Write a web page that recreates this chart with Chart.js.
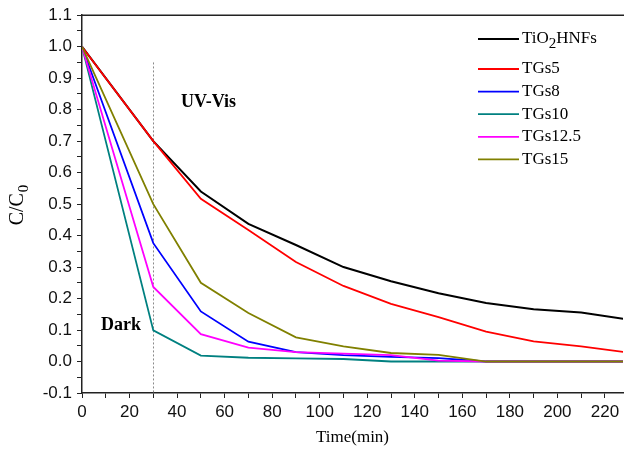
<!DOCTYPE html>
<html>
<head>
<meta charset="utf-8">
<script src="https://cdn.jsdelivr.net/npm/chart.js@4/dist/chart.umd.min.js"></script>
<style>
  html, body { margin: 0; padding: 0; background: #fff; }
  #wrap { width: 624px; height: 453px; position: relative; }
</style>
</head>
<body>
<div id="wrap"><canvas id="c" width="624" height="453"></canvas></div>
<script>
// ---- data ----
const timeMin = [0, 30, 50, 70, 90, 110, 130, 150, 170, 190, 210, 230];
const seriesNames = ['TiO2HNFs', 'TGs5', 'TGs8', 'TGs10', 'TGs12.5', 'TGs15'];
const tio2HNFs = [1.0, 0.70, 0.54, 0.437, 0.37, 0.30, 0.255, 0.217, 0.186, 0.166, 0.156, 0.133];
const tgs5     = [1.0, 0.70, 0.517, 0.418, 0.316, 0.24, 0.183, 0.141, 0.095, 0.064, 0.048, 0.028];
const tgs8     = [1.0, 0.376, 0.159, 0.063, 0.030, 0.020, 0.015, 0.011, 0.0, 0.0, 0.0, 0.0];
const tgs10    = [1.0, 0.099, 0.019, 0.012, 0.010, 0.008, 0.0, 0.0, 0.0, 0.0, 0.0, 0.0];
const tgs125   = [1.0, 0.237, 0.087, 0.044, 0.030, 0.025, 0.020, 0.003, 0.0, 0.0, 0.0, 0.0];
const tgs15    = [1.0, 0.50, 0.25, 0.154, 0.077, 0.048, 0.027, 0.021, 0.0, 0.0, 0.0, 0.0];
const xTickValues = [0, 10, 20, 30, 40, 50, 60, 70, 80, 90, 100, 110, 120, 130, 140, 150, 160, 170, 180, 190, 200, 210, 220];
const yTickValues = [-0.1, -0.05, 0.0, 0.05, 0.1, 0.15, 0.2, 0.25, 0.3, 0.35, 0.4, 0.45, 0.5, 0.55, 0.6, 0.65, 0.7, 0.75, 0.8, 0.85, 0.9, 0.95, 1.0, 1.05, 1.1];
const darkUvBoundary = 30;   // min
const boundaryTop = 0.95;

const allSeries = [tio2HNFs, tgs5, tgs8, tgs10, tgs125, tgs15];
const colors = ['#000000', '#ff0000', '#0000ff', '#008080', '#ff00ff', '#808000'];
const widths = [2, 1.8, 1.8, 1.8, 1.8, 1.8];

const datasets = allSeries.map((vals, i) => ({
  label: seriesNames[i],
  data: timeMin.map((t, j) => ({ x: t, y: vals[j] })),
  borderColor: colors[i],
  backgroundColor: colors[i],
  borderWidth: widths[i],
  pointRadius: 0,
  tension: 0,
  fill: false,
  order: allSeries.length - i
}));

const serif = '"Liberation Serif", "Times New Roman", serif';
const sans = '"Liberation Sans", Arial, sans-serif';

const decor = {
  id: 'decor',
  beforeDatasetsDraw(chart) {
    const { ctx, chartArea: a, scales: { x, y } } = chart;
    ctx.save();
    ctx.strokeStyle = '#8a8a8a';
    ctx.lineWidth = 1;
    ctx.setLineDash([2, 2]);
    const bx = Math.round(x.getPixelForValue(darkUvBoundary)) + 0.5;
    ctx.beginPath();
    ctx.moveTo(bx, y.getPixelForValue(boundaryTop));
    ctx.lineTo(bx, a.bottom);
    ctx.stroke();
    ctx.restore();
  },
  afterDraw(chart) {
    const { ctx, chartArea: a } = chart;
    ctx.save();
    ctx.strokeStyle = '#222';
    ctx.lineWidth = 1.5;
    ctx.beginPath();
    ctx.moveTo(a.left, a.top);
    ctx.lineTo(624, a.top);
    ctx.stroke();

    ctx.fillStyle = '#000';
    ctx.textBaseline = 'middle';
    ctx.textAlign = 'center';
    ctx.font = '17px ' + serif;
    ctx.fillText('Time(min)', (a.left + a.right) / 2, 438);

    ctx.save();
    ctx.translate(18, 205);
    ctx.rotate(-Math.PI / 2);
    ctx.font = '20px ' + serif;
    const main = 'C/C';
    const wMain = ctx.measureText(main).width;
    ctx.font = '15px ' + serif;
    const wSub = ctx.measureText('0').width;
    const start = -(wMain + wSub + 1) / 2;
    ctx.textAlign = 'left';
    ctx.font = '20px ' + serif;
    ctx.fillText(main, start, 0);
    ctx.font = '15px ' + serif;
    ctx.fillText('0', start + wMain + 1, 6);
    ctx.restore();

    ctx.textAlign = 'left';
    ctx.font = 'bold 18px ' + serif;
    ctx.fillText('UV-Vis', 181, 102);
    ctx.fillText('Dark', 101, 325);

    const lx0 = 478, lx1 = 519, tx = 522;
    chart.data.datasets.forEach((ds, i) => {
      const ly = i === 0 ? 39 : 69 + (i - 1) * 22.6;
      ctx.strokeStyle = ds.borderColor;
      ctx.lineWidth = ds.borderWidth;
      ctx.beginPath();
      ctx.moveTo(lx0, ly);
      ctx.lineTo(lx1, ly);
      ctx.stroke();
      ctx.fillStyle = '#000';
      ctx.font = '17px ' + serif;
      if (ds.label === 'TiO2HNFs') {
        let px = tx;
        ctx.fillText('TiO', px, ly);
        px += ctx.measureText('TiO').width;
        ctx.font = '15px ' + serif;
        ctx.fillText('2', px, ly + 5);
        px += ctx.measureText('2').width;
        ctx.font = '17px ' + serif;
        ctx.fillText('HNFs', px, ly);
      } else {
        ctx.fillText(ds.label, tx, ly);
      }
    });
    ctx.restore();
  }
};

new Chart(document.getElementById('c'), {
  type: 'line',
  data: { datasets },
  options: {
    responsive: false,
    animation: false,
    events: [],
    layout: { padding: { top: 15, right: 1, left: 0, bottom: 0 } },
    plugins: { legend: { display: false }, tooltip: { enabled: false } },
    scales: {
      x: {
        type: 'linear',
        min: 0,
        max: 227.6,
        afterBuildTicks(s) { s.ticks = xTickValues.map(v => ({ value: v })); },
        afterFit(s) { s.height = 60; },
        grid: { drawOnChartArea: false, drawTicks: true, tickLength: 5, color: '#222', lineWidth: 1 },
        border: { display: true, color: '#222', width: 1.5 },
        ticks: {
          autoSkip: false, maxRotation: 0, padding: 4, color: '#111',
          font: { family: sans, size: 17 },
          callback: (v) => (v % 20 === 0 ? String(v) : '')
        }
      },
      y: {
        type: 'linear',
        min: -0.1,
        max: 1.1,
        afterBuildTicks(s) { s.ticks = yTickValues.map(v => ({ value: v })); },
        afterFit(s) { s.width = 82; },
        grid: { drawOnChartArea: false, drawTicks: true, tickLength: 5, color: '#222', lineWidth: 1 },
        border: { display: true, color: '#222', width: 1.5 },
        ticks: {
          autoSkip: false, padding: 5, color: '#111',
          font: { family: sans, size: 17 },
          callback: (v) => {
            const k = Math.round(v * 100);
            return (k % 10 === 0) ? (k / 100).toFixed(1) : '';
          }
        }
      }
    }
  },
  plugins: [decor]
});
</script>
</body>
</html>
